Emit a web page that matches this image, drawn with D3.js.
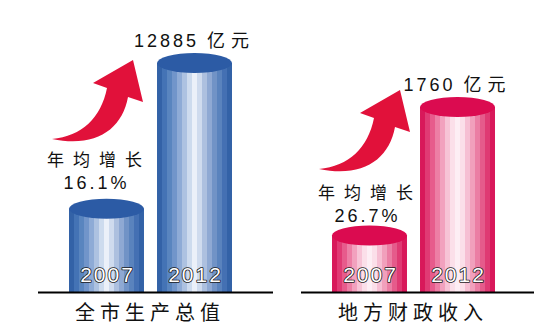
<!DOCTYPE html>
<html>
<head>
<meta charset="utf-8">
<script src="https://cdn.jsdelivr.net/npm/d3@7"></script>
<style>
  html, body { margin: 0; padding: 0; background: #fff; }
  svg { display: block; }
</style>
</head>
<body>
<svg id="chart" width="544" height="329"></svg>
<script>
// ---- data ----
const years = ["2007", "2012"];
const gdpValues = [4700, 12885];        // 全市生产总值 (亿元), 2007
const revenueValues = [540, 1760];      // 地方财政收入 (亿元), 2007
const growthRates = ["16.1%", "26.7%"];
const panelTitles = ["全市生产总值", "地方财政收入"];
const growthLabel = "年均增长";
const unitLabel = "亿元";

// ---- layout ----
const W = 544, H = 329;
const baseY = 292.5;
const panels = [
  { values: gdpValues, rate: growthRates[0], title: panelTitles[0],
    barRange: [69, 232], topY: 63, line: [38, 273],
    growthX: 95, growthY1: 166, growthY2: 189, arrowDx: 0, arrowDy: 0,
    theme: "blue" },
  { values: revenueValues, rate: growthRates[1], title: panelTitles[1],
    barRange: [332, 495], topY: 107, line: [301, 534],
    growthX: 366, growthY1: 199, growthY2: 222, arrowDx: 267, arrowDy: 30,
    theme: "pink" }
];

const themes = {
  blue: {
    top: "#2c5ba5",
    stripes: ["#3362a7", "#4473b5", "#5985bf", "#7195ca", "#8eabd6", "#adc2e1",
              "#cddbee", "#ebf0f9", "#cfdbee", "#adc0df", "#8fa9d3", "#7193c6",
              "#5a83bd", "#4470b3", "#3362a7"]
  },
  pink: {
    top: "#db0b50",
    stripes: ["#d8185a", "#e03a74", "#e75b8c", "#ed7ea5", "#f2a1be", "#f7c3d6",
              "#fbdfe9", "#fdeef4", "#fbdfe9", "#f6bfd3", "#f1a0bc", "#eb7ea4",
              "#e55b8b", "#df3a73", "#d8185a"]
  }
};

const svg = d3.select("#chart");
const defs = svg.append("defs");

Object.entries(themes).forEach(([name, t]) => {
  const g = defs.append("linearGradient")
    .attr("id", "grad-" + name)
    .attr("x1", "0%").attr("x2", "100%").attr("y1", "0%").attr("y2", "0%");
  const n = t.stripes.length;
  t.stripes.forEach((c, i) => {
    g.append("stop").attr("offset", (i / n * 100) + "%").attr("stop-color", c);
    g.append("stop").attr("offset", ((i + 1) / n * 100) + "%").attr("stop-color", c);
  });
});

const numFont = "'Liberation Sans', Arial, sans-serif";
const cjkFont = "'Noto Sans CJK SC', 'Noto Sans', sans-serif";
const arrowPath = "M52,139 C82,136 101,118 107,88 L93,83 L133,60 L143,102 L128,97 C122,130 95,148 52,139 Z";
const fmt = d3.format("d");

panels.forEach(p => {
  const x = d3.scaleBand().domain(years).range(p.barRange).paddingInner(0.148).paddingOuter(0);
  const y = d3.scaleLinear().domain([0, d3.max(p.values)]).range([baseY, p.topY]);
  const t = themes[p.theme];
  const data = years.map((yr, i) => ({ year: yr, value: p.values[i] }));
  const rx = x.bandwidth() / 2, ry = 10;
  const g = svg.append("g");

  // arrow
  g.append("path")
    .attr("d", arrowPath)
    .attr("transform", `translate(${p.arrowDx},${p.arrowDy})`)
    .attr("fill", "#e1113a");

  // cylinder bodies
  const bars = g.selectAll(".bar").data(data).enter().append("g");
  bars.append("rect")
    .attr("x", d => x(d.year))
    .attr("y", d => y(d.value))
    .attr("width", x.bandwidth())
    .attr("height", d => baseY - y(d.value))
    .attr("fill", `url(#grad-${p.theme})`);
  bars.append("ellipse")
    .attr("cx", d => x(d.year) + rx)
    .attr("cy", d => y(d.value))
    .attr("rx", rx)
    .attr("ry", ry)
    .attr("fill", t.top);

  // year labels
  bars.append("text")
    .attr("x", d => x(d.year) + rx + 1)
    .attr("y", 282)
    .attr("text-anchor", "middle")
    .attr("font-family", numFont)
    .attr("font-size", 21)
    .attr("letter-spacing", 2)
    .attr("fill", "#fff")
    .attr("stroke", "#1a1a1a")
    .attr("stroke-width", 1.6)
    .attr("stroke-linejoin", "round")
    .attr("paint-order", "stroke")
    .text(d => d.year);

  // value label on last bar
  const last = data[data.length - 1];
  const vt = g.append("text")
    .attr("x", x(last.year) + rx)
    .attr("y", y(last.value) - ry - 6)
    .attr("text-anchor", "middle")
    .attr("fill", "#111");
  vt.append("tspan")
    .attr("font-family", numFont).attr("font-size", 18).attr("letter-spacing", 3)
    .text(fmt(last.value) + " ");
  vt.append("tspan")
    .attr("font-family", cjkFont).attr("font-size", 18).attr("letter-spacing", 6)
    .text(unitLabel);

  // growth labels
  g.append("text")
    .attr("x", p.growthX + 4)
    .attr("y", p.growthY1)
    .attr("text-anchor", "middle")
    .attr("font-family", cjkFont)
    .attr("font-size", 17)
    .attr("letter-spacing", 9)
    .attr("fill", "#111")
    .text(growthLabel);
  g.append("text")
    .attr("x", p.growthX + 1.5)
    .attr("y", p.growthY2)
    .attr("text-anchor", "middle")
    .attr("font-family", numFont)
    .attr("font-size", 18)
    .attr("letter-spacing", 3)
    .attr("fill", "#111")
    .text(p.rate);

  // baseline
  g.append("line")
    .attr("x1", p.line[0]).attr("x2", p.line[1])
    .attr("y1", baseY).attr("y2", baseY)
    .attr("stroke", "#000").attr("stroke-width", 2.2);

  // title
  const xc = (p.barRange[0] + p.barRange[1]) / 2;
  g.append("text")
    .attr("x", xc - 0.5)
    .attr("y", 320)
    .attr("text-anchor", "middle")
    .attr("font-family", cjkFont)
    .attr("font-size", 20)
    .attr("letter-spacing", 5)
    .attr("fill", "#111")
    .text(p.title);
});
</script>
</body>
</html>
